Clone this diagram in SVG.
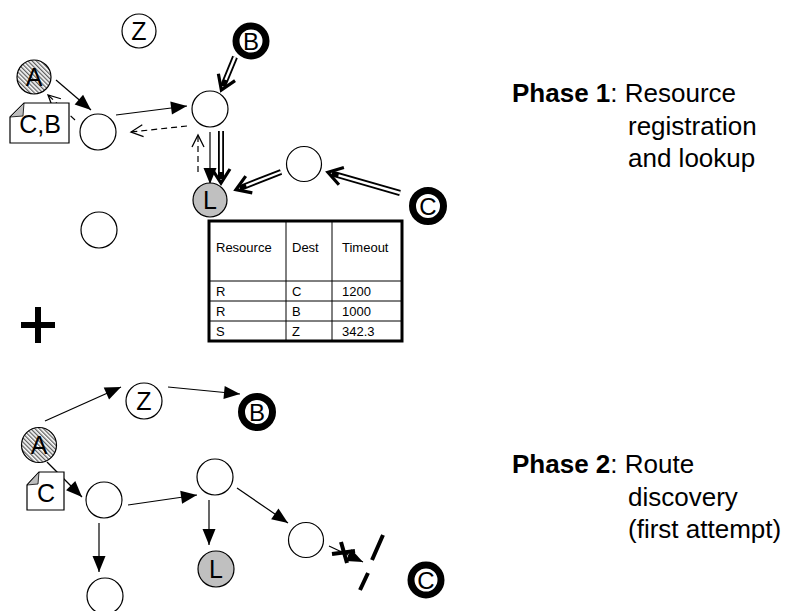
<svg xmlns="http://www.w3.org/2000/svg" width="794" height="611" viewBox="0 0 794 611">
  <style>
    text { font-family: "Liberation Sans", Arial, sans-serif; fill: #000; }
    .node { fill: #fff; stroke: #000; stroke-width: 1.2; }
    .hatch { fill: url(#hatch); stroke: #000; stroke-width: 1.2; }
    .lookup { fill: #c0c0c0; stroke: #000; stroke-width: 1.2; }
    .ring { fill: #fff; stroke: #000; stroke-width: 7; }
    .lbl { font-size: 25px; text-anchor: middle; }
    .rlbl { font-size: 24px; text-anchor: middle; }
    .doc { fill: #fff; stroke: #000; stroke-width: 1.2; }
    .fold { fill: #bdbdbd; stroke: #000; stroke-width: 0.8; }
    .thin { fill: none; stroke: #000; stroke-width: 1.2; marker-end: url(#tri); }
    .dash { fill: none; stroke: #000; stroke-width: 1.2; stroke-dasharray: 6 4; marker-end: url(#open); }
    .dbl-out { fill: none; stroke: #000; stroke-width: 6; marker-end: url(#chev); }
    .dbl-in { fill: none; stroke: #fff; stroke-width: 2.4; }
    .bar { fill: none; stroke: #000; stroke-width: 4; }
    .cell { font-size: 13px; }
    .grid { stroke: #000; stroke-width: 1; }
    .phase { font-size: 26px; }
  </style>
  <defs>
    <pattern id="hatch" patternUnits="userSpaceOnUse" width="3" height="3" patternTransform="rotate(-45)">
      <rect width="3" height="3" fill="#fff"/>
      <line x1="0.7" y1="0" x2="0.7" y2="3" stroke="#444" stroke-width="1.1"/>
    </pattern>
    <marker id="tri" markerUnits="userSpaceOnUse" viewBox="-18 -8 19 16" markerWidth="19" markerHeight="16" refX="0" refY="0" orient="auto">
      <path d="M-16,-6.5 L0,0 L-16,6.5 z" fill="#000"/>
    </marker>
    <marker id="open" markerUnits="userSpaceOnUse" viewBox="-14 -8 16 16" markerWidth="16" markerHeight="16" refX="0" refY="0" orient="auto">
      <path d="M-12,-6 L0,0 L-12,6" fill="none" stroke="#000" stroke-width="1.3"/>
    </marker>
    <marker id="chev" markerUnits="userSpaceOnUse" viewBox="-18 -11 24 22" markerWidth="24" markerHeight="22" refX="-5" refY="0" orient="auto">
      <path d="M-15,-9 L-1,0 L-15,9" fill="none" stroke="#000" stroke-width="3.2"/>
    </marker>
  </defs>

  <!-- connectors -->
  <g id="connectors">
    <!-- phase 1 -->
    <path class="thin" d="M56,80 L91,110"/>
    <path class="dash" d="M75,120 L48,95"/>
    <path class="thin" d="M116,115 L187,106"/>
    <path class="dash" d="M187,126 L131,132"/>
    <path class="thin" d="M210,132 L210,184"/>
    <path class="dash" d="M198,172 L198,135"/>
    <path class="dbl-out" d="M235,57 L222.9,86.4"/>
    <path class="dbl-in" d="M235,57 L225.6,79.9"/>
    <path class="dbl-out" d="M221,131 L221,179"/>
    <path class="dbl-in" d="M221,131 L221,172"/>
    <path class="dbl-out" d="M281,172 L239.7,188.2"/>
    <path class="dbl-in" d="M281,172 L246.2,185.6"/>
    <path class="dbl-out" d="M400,193 L331.8,173.4"/>
    <path class="dbl-in" d="M400,193 L338.5,175.3"/>
    <!-- phase 2 -->
    <path class="thin" d="M45,421 L121,387"/>
    <path class="thin" d="M168,387 L240,394"/>
    <path class="thin" d="M47,462 L82,497"/>
    <path class="thin" d="M128,505 L197,495"/>
    <path class="thin" d="M209,500 L209,545"/>
    <path class="thin" d="M99,523 L99,572"/>
    <path class="thin" d="M237,488 L288,523"/>
    <path class="thin" d="M329,546 L363,562"/>
    <!-- broken link -->
    <path class="bar" d="M341,542 L347,563 M332,554 L355,551"/>
    <path class="bar" d="M383,535 L372,560 M368,573 L360,590"/>
  </g>

  <!-- phase 1 nodes -->
  <g id="p1-z"><circle class="node" cx="139" cy="31" r="17"/><text class="lbl" x="139" y="40">Z</text></g>
  <g id="p1-a"><circle class="hatch" cx="34" cy="77" r="17"/><text class="lbl" x="34" y="86">A</text></g>
  <g id="p1-doc">
    <path class="doc" d="M24,103 L69,103 L69,143 L10,143 L10,117 Z"/>
    <path class="fold" d="M24,103 L10,117 L23,116 Z"/>
    <text class="lbl" x="40" y="133">C,B</text>
  </g>
  <g id="p1-n1"><circle class="node" cx="98" cy="132" r="18"/></g>
  <g id="p1-n2"><circle class="node" cx="210" cy="109" r="18"/></g>
  <g id="p1-b"><circle class="ring" cx="251" cy="41" r="15"/><text class="rlbl" x="251" y="49.5">B</text></g>
  <g id="p1-l"><circle class="lookup" cx="210" cy="200" r="17"/><text class="lbl" x="210" y="209">L</text></g>
  <g id="p1-m"><circle class="node" cx="304" cy="164" r="17.5"/></g>
  <g id="p1-c"><circle class="ring" cx="428" cy="206" r="15.5"/><text class="rlbl" x="428" y="214.5">C</text></g>
  <g id="p1-n3"><circle class="node" cx="99" cy="230" r="18"/></g>

  <!-- lookup table -->
  <g id="table">
    <rect x="209" y="221" width="193" height="120" fill="#fff" stroke="#000" stroke-width="3"/>
    <line class="grid" x1="286" y1="221" x2="286" y2="341"/>
    <line class="grid" x1="332" y1="221" x2="332" y2="341"/>
    <line class="grid" x1="209" y1="281" x2="402" y2="281"/>
    <line class="grid" x1="209" y1="301" x2="402" y2="301"/>
    <line class="grid" x1="209" y1="321" x2="402" y2="321"/>
    <text class="cell" x="216" y="252">Resource</text>
    <text class="cell" x="292" y="252">Dest</text>
    <text class="cell" x="342" y="252">Timeout</text>
    <text class="cell" x="216" y="296">R</text>
    <text class="cell" x="292" y="296">C</text>
    <text class="cell" x="342" y="296">1200</text>
    <text class="cell" x="216" y="316">R</text>
    <text class="cell" x="292" y="316">B</text>
    <text class="cell" x="342" y="316">1000</text>
    <text class="cell" x="216" y="336">S</text>
    <text class="cell" x="292" y="336">Z</text>
    <text class="cell" x="342" y="336">342.3</text>
  </g>

  <!-- plus sign between phases -->
  <g id="plus">
    <rect x="35" y="307" width="6" height="36" fill="#000"/>
    <rect x="21" y="322" width="34" height="6" fill="#000"/>
  </g>

  <!-- phase 2 nodes -->
  <g id="p2-z"><circle class="node" cx="144" cy="401" r="18"/><text class="lbl" x="144" y="410">Z</text></g>
  <g id="p2-b"><circle class="ring" cx="257" cy="412" r="15.5"/><text class="rlbl" x="257" y="420.5">B</text></g>
  <g id="p2-a"><circle class="hatch" cx="39" cy="445" r="17.5"/><text class="lbl" x="39" y="454">A</text></g>
  <g id="p2-doc">
    <path class="doc" d="M39,472 L64,472 L64,510 L27,510 L27,485 Z"/>
    <path class="fold" d="M39,472 L27,485 L38,484 Z"/>
    <text class="lbl" x="46" y="502">C</text>
  </g>
  <g id="p2-n1"><circle class="node" cx="104" cy="500" r="18"/></g>
  <g id="p2-n2"><circle class="node" cx="215" cy="477" r="18"/></g>
  <g id="p2-l"><circle class="lookup" cx="216" cy="569" r="18"/><text class="lbl" x="216" y="578">L</text></g>
  <g id="p2-n3"><circle class="node" cx="105" cy="596" r="18"/></g>
  <g id="p2-n4"><circle class="node" cx="306" cy="540" r="17.5"/></g>
  <g id="p2-c"><circle class="ring" cx="426" cy="580" r="15"/><text class="rlbl" x="426" y="588.5">C</text></g>

  <!-- phase captions -->
  <g id="caption-1">
    <text class="phase" x="512" y="102"><tspan font-weight="bold">Phase 1</tspan>: Resource</text>
    <text class="phase" x="628" y="135">registration</text>
    <text class="phase" x="628" y="167">and lookup</text>
  </g>
  <g id="caption-2">
    <text class="phase" x="512" y="473"><tspan font-weight="bold">Phase 2</tspan>: Route</text>
    <text class="phase" x="628" y="506">discovery</text>
    <text class="phase" x="628" y="538">(first attempt)</text>
  </g>
</svg>
